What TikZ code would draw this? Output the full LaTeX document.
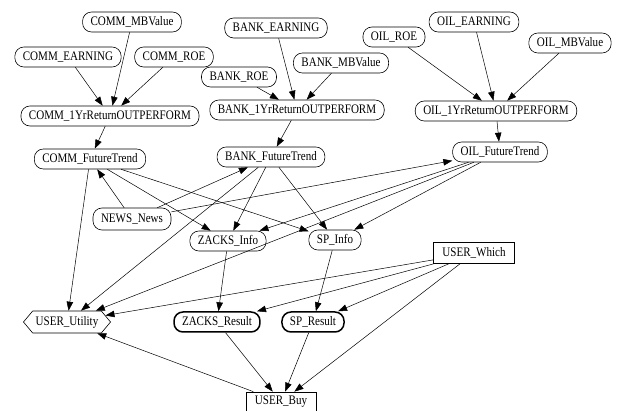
\documentclass[tikz,border=0pt]{standalone}
\usepackage{fontspec}
\setmainfont[FakeStretch=0.85]{Liberation Serif}
\usetikzlibrary{arrows.meta,shapes.symbols}
\begin{document}
\begin{tikzpicture}[x=1pt,y=-1pt,
  txt/.style={font=\fontsize{13}{15}\selectfont},
  nd/.style={txt, draw, rounded corners=9pt, minimum height=20pt, inner xsep=8pt, inner ysep=2pt, line width=0.6pt},
  res/.style={nd, line width=1.5pt},
  sq/.style={txt, draw, rectangle, minimum height=21pt, inner xsep=9pt, inner ysep=2pt, line width=0.7pt},
  hexa/.style={txt, draw, signal, signal to=west and east, signal pointer angle=100, minimum height=22pt, inner xsep=3pt, inner ysep=2pt, line width=0.6pt},
  edge/.style={-{Triangle[length=9pt,width=6.5pt]}, line width=0.5pt}
]
\useasboundingbox (0,0) rectangle (618,411);
% top row
\node[nd] (cmb) at (132,22) {COMM\_MBValue};
\node[nd] (cea) at (68,57) {COMM\_EARNING};
\node[nd] (croe) at (174,57) {COMM\_ROE};
\node[nd] (bea) at (276,28) {BANK\_EARNING};
\node[nd] (bmb) at (341,63) {BANK\_MBValue};
\node[nd] (broe) at (239,77) {BANK\_ROE};
\node[nd] (oroe) at (394,37) {OIL\_ROE};
\node[nd] (oea) at (474,22) {OIL\_EARNING};
\node[nd] (omb) at (570,43) {OIL\_MBValue};
% return nodes
\node[nd] (c1) at (110,116) {COMM\_1YrReturnOUTPERFORM};
\node[nd] (b1) at (297,110) {BANK\_1YrReturnOUTPERFORM};
\node[nd] (o1) at (496,111) {OIL\_1YrReturnOUTPERFORM};
% future trends
\node[nd] (cft) at (90,159) {COMM\_FutureTrend};
\node[nd] (bft) at (271,157) {BANK\_FutureTrend};
\node[nd] (oft) at (500,152) {OIL\_FutureTrend};
% middle
\node[nd, minimum height=22pt] (news) at (132,219) {NEWS\_News};
\node[nd] (zi) at (228,241) {ZACKS\_Info};
\node[nd] (si) at (335,240) {SP\_Info};
\node[sq] (uw) at (474,253) {USER\_Which};
% bottom
\node[hexa] (uu) at (67,322) {USER\_Utility};
\node[res] (zr) at (217,322) {ZACKS\_Result};
\node[res] (sr) at (313,322) {SP\_Result};
\node[sq, minimum height=20pt] (ub) at (281,402) {USER\_Buy};
% edges
\draw[edge] (cmb) -- (c1);
\draw[edge] (cea) -- (c1);
\draw[edge] (croe) -- (c1);
\draw[edge] (c1) -- (cft);
\draw[edge] (bea) -- (b1);
\draw[edge] (broe) -- (b1);
\draw[edge] (bmb) -- (b1);
\draw[edge] (b1) -- (bft);
\draw[edge] (oroe) -- (o1);
\draw[edge] (oea) -- (o1);
\draw[edge] (omb) -- (o1);
\draw[edge] (o1) -- (oft);
\draw[edge] (news) -- (cft);
\draw[edge] (news) -- (bft);
\draw[edge] (news) -- (oft);
\draw[edge] (cft) -- (zi);
\draw[edge] (cft) -- (si);
\draw[edge] (cft) -- (uu);
\draw[edge] (bft) -- (zi);
\draw[edge] (bft) -- (si);
\draw[edge] (bft) -- (uu);
\draw[edge] (oft) -- (zi);
\draw[edge] (oft) -- (si);
\draw[edge] (oft) -- (uu);
\draw[edge] (zi) -- (zr);
\draw[edge] (si) -- (sr);
\draw[edge] (uw) -- (uu);
\draw[edge] (uw) -- (zr);
\draw[edge] (uw) -- (sr);
\draw[edge] (uw) -- (ub);
\draw[edge] (zr) -- (ub);
\draw[edge] (sr) -- (ub);
\draw[edge] (ub) -- (uu);
\end{tikzpicture}
\end{document}
